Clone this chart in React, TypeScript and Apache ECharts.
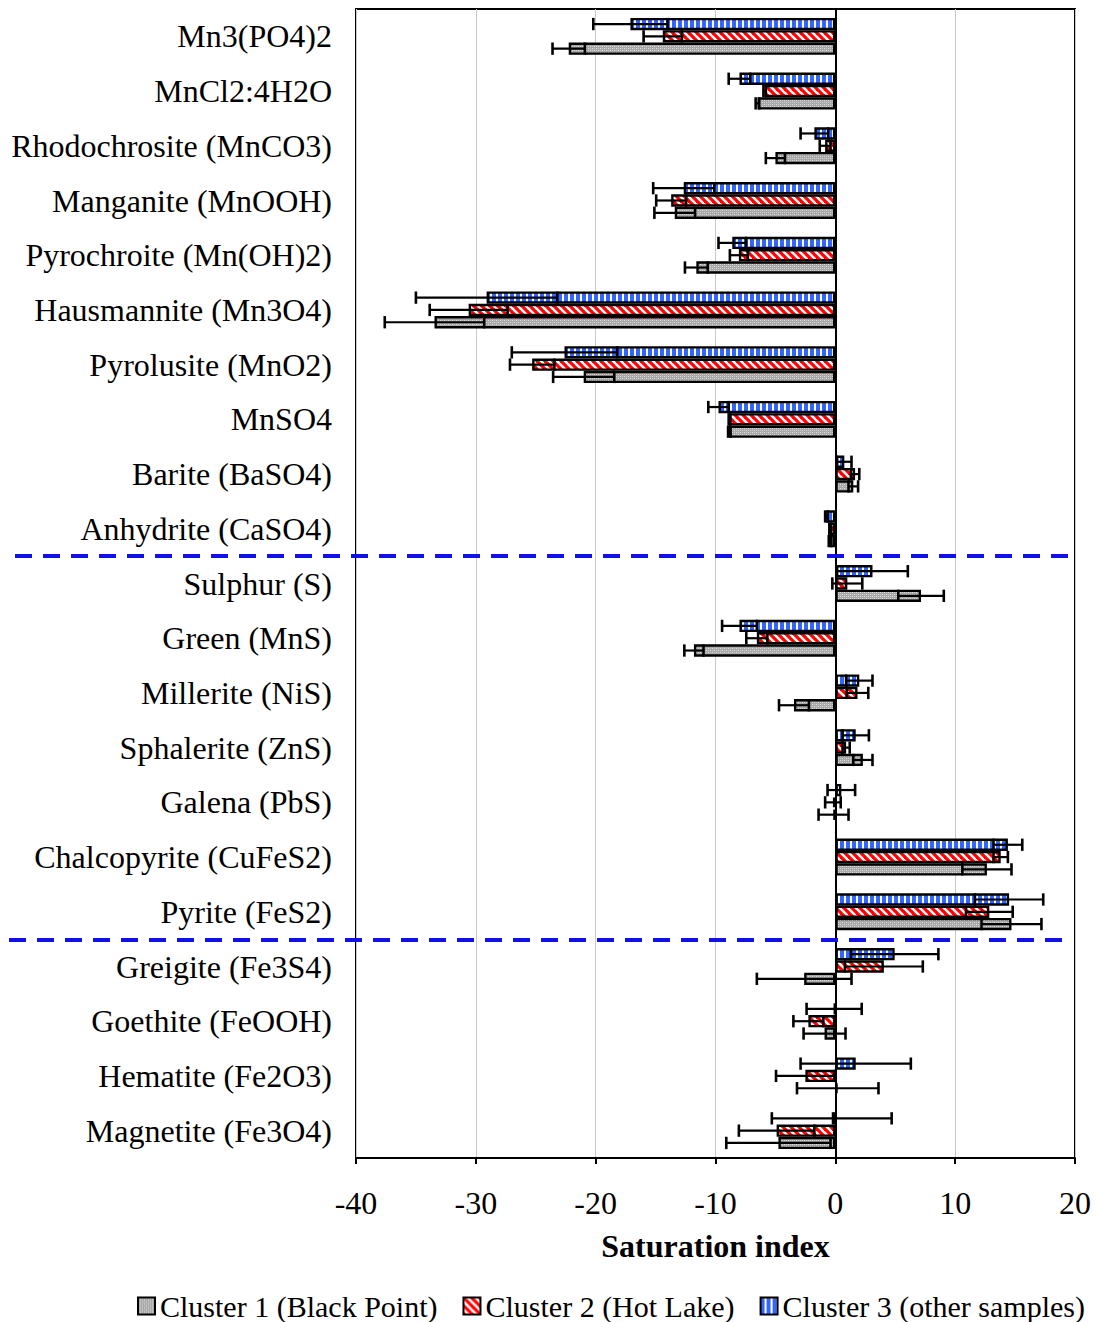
import React, { useEffect, useRef } from 'react';
import * as echarts from 'echarts';

// Minerals, listed top to bottom
const minerals = [
  'Mn3(PO4)2',
  'MnCl2:4H2O',
  'Rhodochrosite (MnCO3)',
  'Manganite (MnOOH)',
  'Pyrochroite (Mn(OH)2)',
  'Hausmannite (Mn3O4)',
  'Pyrolusite (MnO2)',
  'MnSO4',
  'Barite (BaSO4)',
  'Anhydrite (CaSO4)',
  'Sulphur (S)',
  'Green (MnS)',
  'Millerite (NiS)',
  'Sphalerite (ZnS)',
  'Galena (PbS)',
  'Chalcopyrite (CuFeS2)',
  'Pyrite (FeS2)',
  'Greigite (Fe3S4)',
  'Goethite (FeOOH)',
  'Hematite (Fe2O3)',
  'Magnetite (Fe3O4)',
];

// Mean saturation index and standard deviation per cluster
const cluster1Mean = [-22.25, -6.5, -5.0, -13.4, -11.6, -33.45, -21.0, -8.85, 1.5, -0.45, 7.15, -11.8, -3.45, 2.3, -0.15, 12.65, 14.7, -2.6, -0.9, 0.2, -4.75];
const cluster1Err = [1.35, 0.15, 0.8, 1.7, 0.95, 4.15, 2.55, 0.1, 0.4, 0.1, 1.9, 0.8, 1.25, 0.8, 1.25, 2.05, 2.5, 3.95, 1.75, 3.4, 4.35];

const cluster2Mean = [-14.4, -5.9, -0.85, -13.7, -8.05, -30.6, -25.3, -8.85, 1.65, -0.45, 1.0, -6.55, 1.85, 0.9, -0.2, 13.8, 12.85, 4.05, -2.25, -2.5, -4.9];
const cluster2Err = [1.6, 0.1, 0.45, 1.25, 0.75, 3.25, 1.85, 0.05, 0.35, 0.05, 1.25, 0.88, 0.9, 0.3, 0.65, 0.6, 1.95, 3.25, 1.25, 2.45, 3.15];

const cluster3Mean = [-17.1, -8.0, -1.75, -12.65, -8.6, -29.1, -22.6, -9.75, 0.75, -0.75, 3.1, -8.0, 2.0, 1.7, 0.5, 14.4, 14.5, 4.95, -0.1, 1.7, -0.3];
const cluster3Err = [3.1, 0.9, 1.15, 2.55, 1.15, 5.9, 4.4, 0.85, 0.6, 0.1, 2.95, 1.45, 1.1, 1.1, 1.15, 1.2, 2.85, 3.65, 2.3, 4.6, 5.0];

const seriesNames = ['Cluster 1 (Black Point)', 'Cluster 2 (Hot Lake)', 'Cluster 3 (other samples)'];

const FONT = '"Liberation Serif", "Times New Roman", serif';
const BAR_WIDTH_FRAC = 0.225;

function makePattern(kind: 'dots' | 'diag' | 'vert') {
  const c = document.createElement('canvas');
  let w = 6, h = 6;
  if (kind === 'dots') { w = 4; h = 4; }
  if (kind === 'diag') { w = 8; h = 8; }
  c.width = w;
  c.height = h;
  const ctx = c.getContext('2d')!;
  if (kind === 'dots') {
    ctx.fillStyle = '#a8a8a8';
    ctx.fillRect(0, 0, w, h);
    ctx.fillStyle = '#e0e0e0';
    ctx.fillRect(0, 0, 1, 1);
    ctx.fillRect(2, 2, 1, 1);
    ctx.fillStyle = '#c8c8c8';
    ctx.fillRect(2, 0, 1, 1);
    ctx.fillRect(0, 2, 1, 1);
  } else if (kind === 'diag') {
    ctx.fillStyle = '#ffffff';
    ctx.fillRect(0, 0, w, h);
    ctx.strokeStyle = '#ff0000';
    ctx.lineWidth = 3.2;
    for (let k = -1; k <= 1; k++) {
      ctx.beginPath();
      ctx.moveTo(k * w - 2, -2);
      ctx.lineTo(k * w + w + 2, h + 2);
      ctx.stroke();
    }
  } else {
    ctx.fillStyle = '#ffffff';
    ctx.fillRect(0, 0, w, h);
    ctx.fillStyle = '#3366ff';
    ctx.fillRect(0, 0, 4, h);
  }
  return { image: c, repeat: 'repeat', imageWidth: w, imageHeight: h } as any;
}

// Error bar (mean ± sd) for one cluster; slot 0 is the top bar of each group
function errorSeries(means: number[], errs: number[], slot: number) {
  const data = means.map((m, i) => [i, m - errs[i], m + errs[i]]);
  return {
    type: 'custom',
    silent: true,
    z: 5,
    encode: { x: [1, 2], y: 0 },
    data,
    renderItem: (params: any, api: any) => {
      const cat = api.value(0);
      const lo = api.coord([api.value(1), cat]);
      const hi = api.coord([api.value(2), cat]);
      const band = api.size([0, 1])[1];
      const bw = band * BAR_WIDTH_FRAC;
      const y = lo[1] + (slot - 1) * bw;
      const half = bw / 2;
      const stroke = { stroke: '#000', lineWidth: 2.2, fill: null };
      return {
        type: 'group',
        children: [
          { type: 'line', shape: { x1: lo[0], y1: y, x2: hi[0], y2: y }, style: stroke },
          { type: 'line', shape: { x1: lo[0], y1: y - half, x2: lo[0], y2: y + half }, style: { ...stroke, lineWidth: 2.6 } },
          { type: 'line', shape: { x1: hi[0], y1: y - half, x2: hi[0], y2: y + half }, style: { ...stroke, lineWidth: 2.6 } },
        ],
      };
    },
  };
}

export default function App() {
  const ref = useRef<HTMLDivElement>(null);

  useEffect(() => {
    if (!ref.current) return;
    const chart = echarts.init(ref.current, null, { renderer: 'svg' });

    const gray = makePattern('dots');
    const red = makePattern('diag');
    const blue = makePattern('vert');

    const barBase = {
      type: 'bar',
      barWidth: `${BAR_WIDTH_FRAC * 100}%`,
      barGap: '0%',
      z: 3,
    };

    chart.setOption({
      animation: false,
      backgroundColor: '#ffffff',
      textStyle: { fontFamily: FONT },
      grid: {
        left: 356,
        right: 22,
        top: 9,
        bottom: 164,
        show: true,
        borderColor: '#000',
        borderWidth: 2,
        backgroundColor: 'transparent',
      },
      legend: {
        data: seriesNames,
        left: 137,
        top: 1291,
        padding: 0,
        itemWidth: 17,
        itemHeight: 17,
        itemGap: 25,
        icon: 'rect',
        textStyle: { fontFamily: FONT, fontSize: 30, color: '#000', lineHeight: 30 },
      },
      xAxis: {
        type: 'value',
        min: -40,
        max: 20,
        interval: 10,
        axisLine: { show: true, lineStyle: { color: '#000', width: 2 } },
        axisTick: { show: true, length: 6, lineStyle: { color: '#000', width: 2 } },
        axisLabel: { fontFamily: FONT, fontSize: 32, color: '#000', margin: 29 },
        splitLine: { show: true, lineStyle: { color: '#c8c8c8', width: 1 } },
        name: 'Saturation index',
        nameLocation: 'middle',
        nameGap: 72,
        nameTextStyle: { fontFamily: FONT, fontSize: 32, fontWeight: 'bold', color: '#000' },
      },
      yAxis: {
        type: 'category',
        data: minerals,
        inverse: true,
        axisLine: { show: true, lineStyle: { color: '#000', width: 2 } },
        axisTick: { show: false },
        axisLabel: { fontFamily: FONT, fontSize: 32, color: '#000', margin: 24 },
        splitLine: { show: false },
      },
      series: [
        {
          ...barBase,
          name: seriesNames[2],
          data: cluster3Mean,
          itemStyle: { color: blue, borderColor: '#000', borderWidth: 2.4 },
        },
        {
          ...barBase,
          name: seriesNames[1],
          data: cluster2Mean,
          itemStyle: { color: red, borderColor: '#000', borderWidth: 2.4 },
        },
        {
          ...barBase,
          name: seriesNames[0],
          data: cluster1Mean,
          itemStyle: { color: gray, borderColor: '#000', borderWidth: 2.4 },
        },
        errorSeries(cluster3Mean, cluster3Err, 0),
        errorSeries(cluster2Mean, cluster2Err, 1),
        errorSeries(cluster1Mean, cluster1Err, 2),
      ],
      graphic: [
        {
          type: 'line',
          z: 100,
          shape: { x1: 15, y1: 556, x2: 1070, y2: 556 },
          style: { stroke: '#1010e8', lineWidth: 4, lineDash: [17, 11] },
        },
        {
          type: 'line',
          z: 100,
          shape: { x1: 9, y1: 940, x2: 1064, y2: 940 },
          style: { stroke: '#1010e8', lineWidth: 4, lineDash: [17, 11] },
        },
      ],
    });

    return () => chart.dispose();
  }, []);

  return (
    <div
      ref={ref}
      style={{ position: 'absolute', left: 0, top: 0, width: 1097, height: 1322 }}
    />
  );
}
